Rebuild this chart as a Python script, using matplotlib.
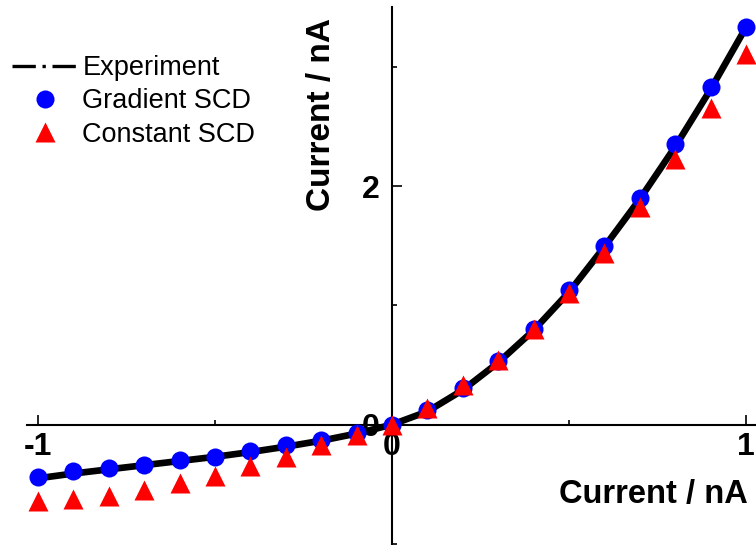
import numpy as np
import matplotlib
matplotlib.use('Agg')
import matplotlib.pyplot as plt
from matplotlib.lines import Line2D
from matplotlib.ticker import MultipleLocator, FormatStrFormatter

plt.rcParams['font.family'] = ['Liberation Sans', 'DejaVu Sans']
plt.rcParams['axes.unicode_minus'] = False

# ── Data ─────────────────────────────────────────────────────────────────────
x_pts = [-1.0, -0.9, -0.8, -0.7, -0.6, -0.5, -0.4, -0.3, -0.2, -0.1, 0.0,
         0.1, 0.2, 0.3, 0.4, 0.5, 0.6, 0.7, 0.8, 0.9, 1.0]

experiment = [-0.45, -0.41, -0.375, -0.34, -0.305, -0.27, -0.23, -0.185, -0.135, -0.075, 0.0,
              0.11, 0.29, 0.52, 0.79, 1.11, 1.49, 1.89, 2.33, 2.81, 3.33]

gradient_scd = [-0.435, -0.39, -0.36, -0.335, -0.30, -0.27, -0.225, -0.175, -0.13, -0.07, 0.0,
                0.126, 0.31, 0.53, 0.80, 1.13, 1.50, 1.90, 2.35, 2.83, 3.33]

constant_scd = [-0.64, -0.62, -0.60, -0.55, -0.49, -0.43, -0.35, -0.27, -0.175, -0.085, 0.0,
                0.137, 0.33, 0.54, 0.80, 1.10, 1.44, 1.82, 2.23, 2.65, 3.11]

# ── Plot ─────────────────────────────────────────────────────────────────────
fig = plt.figure(figsize=(7.56, 5.45), dpi=100)
ax = fig.add_axes([0.0362, 0.002, 0.9646, 0.985])

ax.plot(x_pts, experiment, color='black', lw=4.8, solid_capstyle='round', zorder=2)
ax.plot(x_pts, gradient_scd, 'o', color='#0000ff', ms=13, mec='none',
        clip_on=False, zorder=3)
ax.plot(x_pts, constant_scd, '^', color='#ff0000', ms=14, mec='none',
        clip_on=False, zorder=4)

ax.set_xlim(-1.03, 1.03)
ax.set_ylim(-1.0, 3.5)

# axes crossing at the origin
for side in ('top', 'right'):
    ax.spines[side].set_visible(False)
ax.spines['left'].set_position(('data', 0))
ax.spines['bottom'].set_position(('data', 0))
for side in ('left', 'bottom'):
    ax.spines[side].set_linewidth(1.5)

ax.xaxis.set_major_locator(MultipleLocator(1))
ax.xaxis.set_minor_locator(MultipleLocator(0.5))
ax.yaxis.set_major_locator(MultipleLocator(2))
ax.yaxis.set_minor_locator(MultipleLocator(1))
ax.xaxis.set_major_formatter(FormatStrFormatter('%d'))
ax.yaxis.set_major_formatter(FormatStrFormatter('%d'))

ax.tick_params(which='both', direction='in', width=1.2)
ax.tick_params(which='major', length=7, labelsize=23)
ax.tick_params(which='minor', length=3.5)
ax.tick_params(axis='x', which='major', pad=5)
ax.tick_params(axis='y', which='major', pad=9)
for lab in ax.get_xticklabels() + ax.get_yticklabels():
    lab.set_fontweight('bold')

ax.set_xlabel('Current / nA', fontsize=23.5, fontweight='bold', loc='right')
ax.xaxis.set_label_coords(0.988, 0.12)
ax.set_ylabel('Current / nA', fontsize=24, fontweight='bold')
ax.yaxis.set_label_coords(0.425, 0.80)

# ── Legend ───────────────────────────────────────────────────────────────────
handles = [
    Line2D([], [], color='black', lw=2.4, linestyle=(0, (7, 2, 1, 2))),
    Line2D([], [], marker='o', color='#0000ff', ms=13, mec='none', linestyle='none'),
    Line2D([], [], marker='^', color='#ff0000', ms=14, mec='none', linestyle='none'),
]
fig.legend(handles, ['Experiment', 'Gradient SCD', 'Constant SCD'],
           loc='upper left', bbox_to_anchor=(12 / 756, 1 - 55 / 545),
           frameon=False, fontsize=19.5, handlelength=2.45, handletextpad=0.15,
           labelspacing=0.27, borderpad=0, borderaxespad=0, numpoints=1)

plt.savefig('out.png', dpi=100)
